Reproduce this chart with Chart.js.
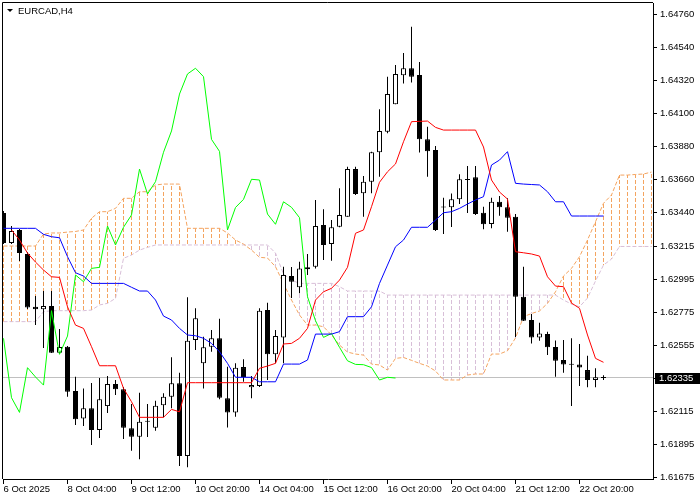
<!DOCTYPE html>
<html lang="en">
<head>
  <meta charset="UTF-8">
  <title>EURCAD,H4</title>
  <script src="https://cdn.jsdelivr.net/npm/chart.js@4"></script>
  <style>
    html, body { margin: 0; padding: 0; background: #fff; }
    canvas { display: block; }
  </style>
</head>
<body>
<canvas id="chart" width="700" height="500"></canvas>

<script>
  // EURCAD H4, 76 candles + Ichimoku (9/26/52)
  const symbolTitle = 'EURCAD,H4';
  const lastPrice = 1.62335;

  const timeLabels = ['6 Oct 2025', '8 Oct 04:00', '9 Oct 12:00', '10 Oct 20:00', '14 Oct 04:00',
    '15 Oct 12:00', '16 Oct 20:00', '20 Oct 04:00', '21 Oct 12:00', '22 Oct 20:00'];
  const timeLabelBars = [0, 8, 16, 24, 32, 40, 48, 56, 64, 72];

  const priceTicks = [1.61675, 1.61895, 1.62115, 1.62335, 1.62555, 1.62775, 1.62995, 1.63215,
    1.63440, 1.63660, 1.63880, 1.64100, 1.64320, 1.64540, 1.64760];

  const opens = [
    1.63435, 1.63235, 1.63322, 1.63162, 1.62810, 1.62793, 1.62815, 1.62504, 1.62544, 1.62248,
    1.62066, 1.62133, 1.61988, 1.62148, 1.62295, 1.62260, 1.62000, 1.61944, 1.62050, 1.62004,
    1.62153, 1.62210, 1.62300, 1.61815, 1.62588, 1.62433, 1.62544, 1.62600, 1.62200, 1.62106,
    1.62408, 1.62273, 1.62282, 1.62788, 1.62493, 1.62606, 1.63015, 1.62940, 1.63060, 1.63077,
    1.63355, 1.63228, 1.63344, 1.63410, 1.63728, 1.63566, 1.63644, 1.63840, 1.63977, 1.64160,
    1.64353, 1.64400, 1.64355, 1.63926, 1.63855, 1.63477, 1.63473, 1.63526, 1.63662, 1.63673,
    1.63437, 1.63362, 1.63510, 1.63473, 1.63410, 1.62877, 1.62722, 1.62606, 1.62628, 1.62542,
    1.62455, 1.62428, 1.62425, 1.62388, 1.62322, 1.62337
  ];
  const highs = [
    1.63448, 1.63348, 1.63328, 1.63175, 1.62882, 1.62915, 1.62915, 1.62662, 1.62548, 1.62344,
    1.62266, 1.62302, 1.62335, 1.62348, 1.62322, 1.62275, 1.62162, 1.62237, 1.62162, 1.62184,
    1.62233, 1.62473, 1.62370, 1.62873, 1.62800, 1.62610, 1.62655, 1.62730, 1.62410, 1.62433,
    1.62460, 1.62348, 1.62800, 1.62837, 1.62655, 1.63077, 1.63075, 1.63110, 1.63162, 1.63522,
    1.63460, 1.63388, 1.63600, 1.63744, 1.63744, 1.63682, 1.63844, 1.64126, 1.64344, 1.64422,
    1.64502, 1.64677, 1.64442, 1.64010, 1.63882, 1.63537, 1.63565, 1.63693, 1.63748, 1.63748,
    1.63477, 1.63537, 1.63548, 1.63533, 1.63428, 1.63077, 1.62762, 1.62704, 1.62644, 1.62585,
    1.62588, 1.62600, 1.62562, 1.62484, 1.62400, 1.62353
  ];
  const lows = [
    1.63228, 1.63228, 1.63115, 1.62795, 1.62688, 1.62535, 1.62502, 1.62495, 1.62210, 1.62022,
    1.62015, 1.61888, 1.61935, 1.62102, 1.62222, 1.61928, 1.61850, 1.61793, 1.61942, 1.61984,
    1.62073, 1.62133, 1.61748, 1.61740, 1.62522, 1.62266, 1.62510, 1.62193, 1.62006, 1.62077,
    1.62310, 1.62200, 1.62275, 1.62322, 1.62433, 1.62433, 1.62868, 1.62900, 1.63022, 1.63066,
    1.63122, 1.63117, 1.63340, 1.63410, 1.63555, 1.63410, 1.63566, 1.63677, 1.63966, 1.64160,
    1.64298, 1.64305, 1.63838, 1.63677, 1.63315, 1.63295, 1.63342, 1.63495, 1.63435, 1.63422,
    1.63326, 1.63333, 1.63417, 1.63310, 1.62608, 1.62715, 1.62565, 1.62584, 1.62488, 1.62344,
    1.62370, 1.62148, 1.62282, 1.62273, 1.62273, 1.62322
  ];
  const closes = [
    1.63235, 1.63315, 1.63168, 1.62805, 1.62793, 1.62815, 1.62504, 1.62542, 1.62244, 1.62060,
    1.62133, 1.61988, 1.62193, 1.62295, 1.62260, 1.62004, 1.61944, 1.62044, 1.62043, 1.62150,
    1.62210, 1.62300, 1.61815, 1.62584, 1.62733, 1.62540, 1.62600, 1.62204, 1.62106, 1.62404,
    1.62342, 1.62288, 1.62784, 1.62493, 1.62615, 1.63022, 1.62977, 1.63066, 1.63073, 1.63348,
    1.63222, 1.63340, 1.63422, 1.63728, 1.63562, 1.63644, 1.63840, 1.63982, 1.64228, 1.64362,
    1.64400, 1.64344, 1.63926, 1.63846, 1.63322, 1.63472, 1.63526, 1.63660, 1.63655, 1.63428,
    1.63360, 1.63510, 1.63473, 1.63404, 1.62877, 1.62717, 1.62606, 1.62632, 1.62540, 1.62450,
    1.62426, 1.62424, 1.62405, 1.62322, 1.62340, 1.62335
  ];

  const tenkanSen = [
    null, 1.63322, 1.63255, 1.63168, 1.63108, 1.63055, 1.63010, 1.63006, 1.62810, 1.62688,
    1.62666, 1.62544, 1.62417, 1.62417, 1.62417, 1.62266, 1.62177, 1.62073, 1.62073, 1.62073,
    1.62073, 1.62126, 1.62110, 1.62304, 1.62304, 1.62304, 1.62304, 1.62304, 1.62304, 1.62304,
    1.62304, 1.62304, 1.62400, 1.62415, 1.62433, 1.62562, 1.62566, 1.62600, 1.62666, 1.62855,
    1.62910, 1.62933, 1.62988, 1.63073, 1.63300, 1.63322, 1.63477, 1.63640, 1.63710, 1.63762,
    1.63910, 1.64044, 1.64046, 1.64048, 1.64006, 1.63988, 1.63988, 1.63988, 1.63988, 1.63988,
    1.63875, 1.63655, 1.63575, 1.63528, 1.63177, 1.63170, 1.63162, 1.63148, 1.63010, 1.62948,
    1.62944, 1.62835, 1.62800, 1.62622, 1.62466, 1.62440
  ];
  const kijunSen = [
    1.63333, 1.63333, 1.63333, 1.63333, 1.63333, 1.63293, 1.63277, 1.63270, 1.63144, 1.63037,
    1.63015, 1.62966, 1.62966, 1.62966, 1.62966, 1.62966, 1.62940, 1.62915, 1.62915, 1.62855,
    1.62748, 1.62722, 1.62666, 1.62622, 1.62617, 1.62600, 1.62566, 1.62510, 1.62433, 1.62340,
    1.62340, 1.62340, 1.62310, 1.62310, 1.62310, 1.62428, 1.62428, 1.62428, 1.62455, 1.62628,
    1.62628, 1.62628, 1.62644, 1.62744, 1.62744, 1.62744, 1.62810, 1.62966, 1.63088, 1.63210,
    1.63255, 1.63340, 1.63340, 1.63340, 1.63388, 1.63437, 1.63444, 1.63466, 1.63495, 1.63522,
    1.63544, 1.63755, 1.63788, 1.63844, 1.63633, 1.63628, 1.63625, 1.63622, 1.63577, 1.63510,
    1.63510, 1.63415, 1.63415, 1.63415, 1.63415, 1.63415
  ];
  // lagging span, plotted on bars 0..49
  const chikouSpan = [
    1.62600, 1.62204, 1.62106, 1.62404, 1.62342, 1.62288, 1.62784, 1.62493, 1.62615, 1.63022,
    1.62977, 1.63066, 1.63073, 1.63348, 1.63222, 1.63340, 1.63422, 1.63728, 1.63562, 1.63644,
    1.63840, 1.63982, 1.64228, 1.64362, 1.64400, 1.64344, 1.63926, 1.63846, 1.63322, 1.63472,
    1.63526, 1.63660, 1.63655, 1.63428, 1.63360, 1.63510, 1.63473, 1.63404, 1.62877, 1.62717,
    1.62606, 1.62632, 1.62540, 1.62450, 1.62426, 1.62424, 1.62405, 1.62322, 1.62340, 1.62335
  ];
  // cloud, plotted on bars 0..81 (runs ahead of price)
  const senkouSpanA = [
    1.63215, 1.63215, 1.63215, 1.63215, 1.63215, 1.63295, 1.63302, 1.63302, 1.63308, 1.63312,
    1.63322, 1.63400, 1.63444, 1.63444, 1.63466, 1.63533, 1.63533, 1.63577, 1.63577, 1.63622,
    1.63628, 1.63628, 1.63628, 1.63333, 1.63333, 1.63333, 1.63333, 1.63333, 1.63302, 1.63255,
    1.63228, 1.63188, 1.63140, 1.63135, 1.63077, 1.62966, 1.62855, 1.62755, 1.62688, 1.62688,
    1.62677, 1.62622, 1.62555, 1.62508, 1.62495, 1.62488, 1.62428, 1.62422, 1.62388, 1.62466,
    1.62472, 1.62453, 1.62433, 1.62415, 1.62382, 1.62322, 1.62322, 1.62322, 1.62355, 1.62362,
    1.62362, 1.62495, 1.62495, 1.62517, 1.62602, 1.62744, 1.62765, 1.62782, 1.62833, 1.62910,
    1.63015, 1.63066, 1.63144, 1.63255, 1.63377, 1.63500, 1.63555, 1.63688, 1.63688, 1.63692,
    1.63695, 1.63708
  ];
  const senkouSpanB = [
    1.62711, 1.62711, 1.62711, 1.62711, 1.62711, 1.62777, 1.62784, 1.62784, 1.62784, 1.62784,
    1.62784, 1.62788, 1.62822, 1.62833, 1.62866, 1.63133, 1.63155, 1.63188, 1.63206, 1.63222,
    1.63222, 1.63222, 1.63222, 1.63222, 1.63222, 1.63222, 1.63222, 1.63222, 1.63222, 1.63222,
    1.63222, 1.63222, 1.63222, 1.63222, 1.63168, 1.63028, 1.62988, 1.62966, 1.62966, 1.62966,
    1.62966, 1.62966, 1.62944, 1.62915, 1.62915, 1.62915, 1.62915, 1.62915, 1.62888, 1.62888,
    1.62888, 1.62888, 1.62888, 1.62888, 1.62888, 1.62888, 1.62888, 1.62888, 1.62888, 1.62888,
    1.62888, 1.62888, 1.62888, 1.62888, 1.62888, 1.62888, 1.62888, 1.62888, 1.62888, 1.62888,
    1.62855, 1.62828, 1.62810, 1.62868, 1.62982, 1.63088, 1.63128, 1.63212, 1.63212, 1.63212,
    1.63212, 1.63212
  ];

  // plot window: bar i sits at pixel 3.5 + 8*i, prices 1 px = 1/15000
  const xMin = -0.0625, xMax = 81.1875;
  const yMin = 1.61662, yMax = 1.64835;

  const canvas = document.getElementById('chart');
  const ctx = canvas.getContext('2d');

  function dashTile(color) {
    const t = document.createElement('canvas');
    t.width = 1; t.height = 6;
    const g = t.getContext('2d');
    g.fillStyle = color;
    g.fillRect(0, 0, 1, 4);
    return ctx.createPattern(t, 'repeat');
  }
  const sandyTile = dashTile('#f4a460');
  const thistleTile = dashTile('#d8bfd8');

  const xy = arr => arr.map((v, i) => ({ x: i, y: v }));
  const bodyData = opens.map((o, i) => ({ x: i, y: [o, closes[i]] }));
  const wickData = lows.map((l, i) => ({ x: i, y: [l, highs[i]] }));
  const cloudData = senkouSpanA.map((a, i) => ({ x: i, y: [a, senkouSpanB[i]] }));

  const lineBase = { type: 'line', pointRadius: 0, borderWidth: 1, tension: 0, fill: false };

  const mtDecor = {
    id: 'mtDecor',
    beforeDatasetsDraw(chart) {
      const { ctx, chartArea } = chart;
      const y = Math.round(chart.scales.y.getPixelForValue(lastPrice)) - 0.5;
      ctx.save();
      ctx.strokeStyle = '#c0c0c0';
      ctx.lineWidth = 1;
      ctx.beginPath();
      ctx.moveTo(chartArea.left, y);
      ctx.lineTo(chartArea.right, y);
      ctx.stroke();
      ctx.restore();
    },
    afterDraw(chart) {
      const { ctx, chartArea } = chart;
      ctx.save();
      // left/top frame
      ctx.strokeStyle = '#000';
      ctx.lineWidth = 1;
      ctx.beginPath();
      ctx.moveTo(2.5, chartArea.bottom);
      ctx.lineTo(2.5, 2.5);
      ctx.lineTo(chartArea.right, 2.5);
      ctx.stroke();
      // symbol title
      ctx.fillStyle = '#000';
      ctx.beginPath();
      ctx.moveTo(7, 9);
      ctx.lineTo(13, 9);
      ctx.lineTo(10, 12);
      ctx.closePath();
      ctx.fill();
      ctx.font = '9.5px "Liberation Sans", Arial, sans-serif';
      ctx.textBaseline = 'alphabetic';
      ctx.fillText(symbolTitle, 18, 14);
      // last price tag
      const y = Math.round(chart.scales.y.getPixelForValue(lastPrice));
      ctx.fillRect(chartArea.right + 2, y - 5, 700 - chartArea.right - 2, 11);
      ctx.fillStyle = '#fff';
      ctx.textBaseline = 'middle';
      ctx.fillText(lastPrice.toFixed(5), 659, y + 0.5);
      ctx.restore();
    }
  };

  Chart.defaults.font.family = '"Liberation Sans", Arial, sans-serif';
  Chart.defaults.font.size = 9.5;
  Chart.defaults.color = '#000';

  new Chart(canvas, {
    type: 'bar',
    data: {
      datasets: [
        {
          label: 'cloud', data: cloudData, order: 10, grouped: false,
          barThickness: 1, borderWidth: 0, inflateAmount: 0,
          backgroundColor: senkouSpanA.map((a, i) => a >= senkouSpanB[i] ? sandyTile : thistleTile)
        },
        { ...lineBase, label: 'Senkou Span A', data: xy(senkouSpanA), order: 9,
          borderColor: '#f4a460', borderDash: [4, 2] },
        { ...lineBase, label: 'Senkou Span B', data: xy(senkouSpanB), order: 9,
          borderColor: '#d8bfd8', borderDash: [4, 2] },
        {
          label: 'wicks', data: wickData, order: 6, grouped: false,
          barThickness: 1, borderWidth: 0, inflateAmount: 0, backgroundColor: '#000'
        },
        {
          label: 'bodies', data: bodyData, order: 5, grouped: false,
          barThickness: 5, borderWidth: 1, borderSkipped: false, inflateAmount: 0, minBarLength: 1,
          borderColor: '#000',
          backgroundColor: opens.map((o, i) => closes[i] >= o ? '#fff' : '#000')
        },
        { ...lineBase, label: 'Chikou Span', data: xy(chikouSpan), order: 3, borderColor: '#00ff00' },
        { ...lineBase, label: 'Kijun-sen', data: xy(kijunSen), order: 2, borderColor: '#0000ff' },
        { ...lineBase, label: 'Tenkan-sen', data: xy(tenkanSen), order: 1, borderColor: '#ff0000' }
      ]
    },
    options: {
      responsive: false,
      animation: false,
      devicePixelRatio: 1,
      layout: { padding: { left: 3, top: 3, right: 0, bottom: 0 } },
      plugins: { legend: { display: false }, tooltip: { enabled: false }, title: { display: false } },
      scales: {
        x: {
          type: 'linear', min: xMin, max: xMax, offset: false,
          afterBuildTicks: s => { s.ticks = timeLabelBars.map(v => ({ value: v })); },
          afterFit: s => { s.height = 21; s.paddingLeft = 0; s.paddingRight = 0; },
          grid: { drawOnChartArea: false, drawTicks: true, offset: false, tickLength: 5, color: '#000', tickColor: '#000' },
          border: { display: true, color: '#000' },
          ticks: {
            autoSkip: false, maxRotation: 0, minRotation: 0, align: 'start', padding: 0,
            font: { size: 9.5, lineHeight: 1.1 },
            callback: v => timeLabels[timeLabelBars.indexOf(v)]
          }
        },
        y: {
          position: 'right', min: yMin, max: yMax,
          afterBuildTicks: s => { s.ticks = priceTicks.map(v => ({ value: v })); },
          afterFit: s => { s.width = 47; s.paddingTop = 0; s.paddingBottom = 0; },
          grid: { drawOnChartArea: false, drawTicks: true, tickLength: 4, color: '#000', tickColor: '#000' },
          border: { display: true, color: '#000' },
          ticks: { padding: 3, font: { size: 9.5 }, callback: v => v.toFixed(5) }
        }
      }
    },
    plugins: [mtDecor]
  });
</script>
</body>
</html>
